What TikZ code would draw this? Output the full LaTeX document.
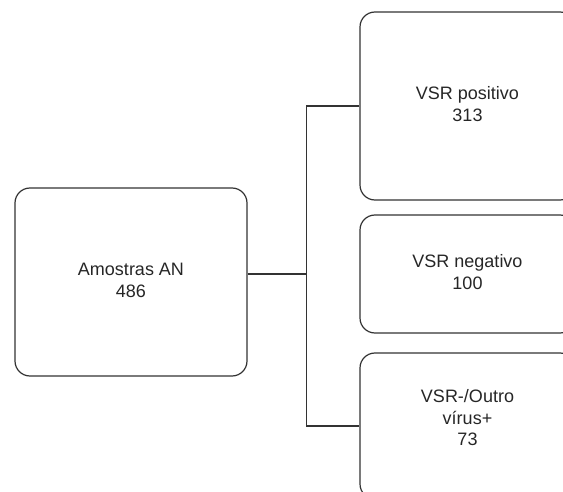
\documentclass[tikz,border=0pt]{standalone}
\usepackage{fontspec}
\setmainfont{Liberation Sans}
\newcommand{\lift}[1]{\rule[-#1]{0pt}{0pt}}
\begin{document}
\begin{tikzpicture}[x=1pt,y=1pt,
  box/.style={draw=black!80, line width=1.2pt, rounded corners=15pt,
    font=\fontsize{18}{21.5}\selectfont, text=black!85, inner sep=0pt},
  conn/.style={draw=black!80, line width=1.2pt}]
\useasboundingbox (0,0) rectangle (563,-492);
\clip (0,0) rectangle (563,-492);
\node[box, minimum width=232, minimum height=188] (a) at (131,-282) {\begin{tabular}{@{}c@{}}Amostras AN\\486\end{tabular}\lift{4pt}};
\node[box, minimum width=215, minimum height=188] (p) at (467.5,-106) {\begin{tabular}{@{}c@{}}VSR positivo\\313\end{tabular}\lift{4pt}};
\node[box, minimum width=215, minimum height=118] (n) at (467.5,-274) {\begin{tabular}{@{}c@{}}VSR negativo\\100\end{tabular}\lift{4pt}};
\node[box, minimum width=215, minimum height=146] (o) at (467.5,-426) {\begin{tabular}{@{}c@{}}VSR-/Outro\\vírus+\\73\end{tabular}\lift{40pt}};
\coordinate (j) at (306.5,-274);
\draw[conn] (a.east |- j) -- (j);
\draw[conn] (p.west) -- (p.west -| j) |- (o.west);
\end{tikzpicture}
\end{document}
